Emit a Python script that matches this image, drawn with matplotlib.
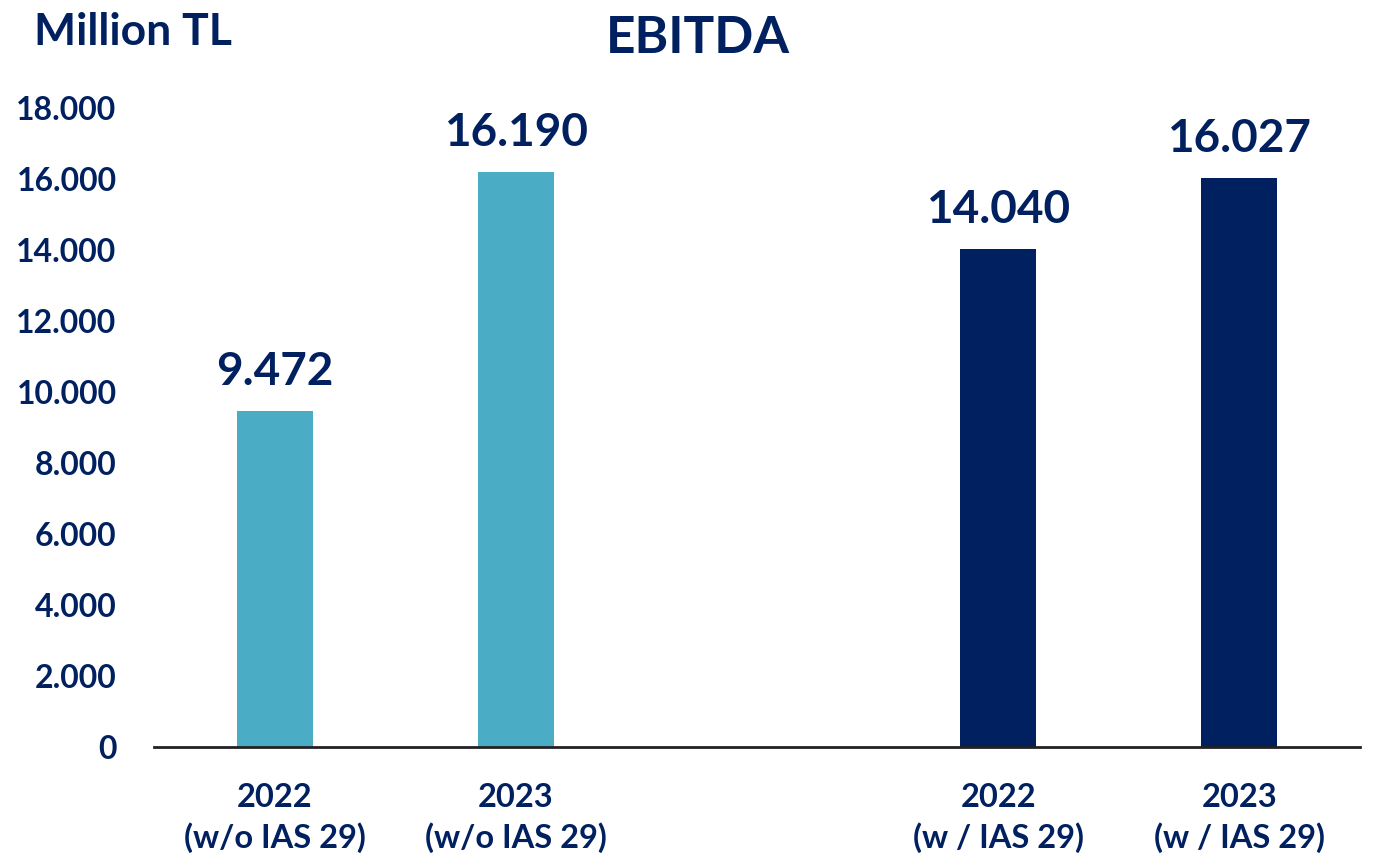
import matplotlib
matplotlib.use("Agg")
import matplotlib.pyplot as plt
from matplotlib.ticker import FuncFormatter

categories = ["2022\n(w/o IAS 29)", "2023\n(w/o IAS 29)", "2022\n(w / IAS 29)", "2023\n(w / IAS 29)"]
values = [9472, 16190, 14040, 16027]
value_labels = ["9.472", "16.190", "14.040", "16.027"]
positions = [0, 1, 3, 4]
colors = ["#4BACC6", "#4BACC6", "#002060", "#002060"]
yticks = [0, 2000, 4000, 6000, 8000, 10000, 12000, 14000, 16000, 18000]

navy = "#002060"
plt.rcParams['font.family'] = ['Lato', 'DejaVu Sans']

fig = plt.figure(figsize=(13.73, 8.61), dpi=100)
ax = fig.add_axes([0.1122, 0.1324, 0.8783, 0.7422])

ax.bar(positions, values, width=0.315, color=colors)
for p, v, t in zip(positions, values, value_labels):
    ax.annotate(t, (p, v), xytext=(0, 13), textcoords="offset points",
                ha="center", va="bottom", fontsize=33, fontweight="bold", color=navy)

ax.set_xlim(-0.5, 4.5)
ax.set_ylim(0, 18000)
ax.set_yticks(yticks)
ax.yaxis.set_major_formatter(FuncFormatter(lambda v, _: f"{int(v):,}".replace(",", ".")))
ax.set_xticks(positions)
ax.set_xticklabels(categories)
for lbl in ax.get_yticklabels():
    lbl.set_fontsize(23); lbl.set_fontweight("bold"); lbl.set_color(navy)
for lbl in ax.get_xticklabels():
    lbl.set_fontsize(23.5); lbl.set_fontweight("bold"); lbl.set_color(navy)
    lbl.set_linespacing(1.4)
ax.tick_params(axis="y", length=0, pad=27)
ax.tick_params(axis="x", length=0, pad=26)
for s in ["left", "right", "top"]:
    ax.spines[s].set_visible(False)
ax.spines["bottom"].set_linewidth(2)
ax.spines["bottom"].set_color("#222222")

fig.text(0.025, 0.963, "Million TL", fontsize=32, fontweight="bold", color=navy, va="center", ha="left")
fig.text(0.508, 0.955, "EBITDA", fontsize=37, fontweight="bold", color=navy, va="center", ha="center")

fig.savefig("out.png", dpi=100)
